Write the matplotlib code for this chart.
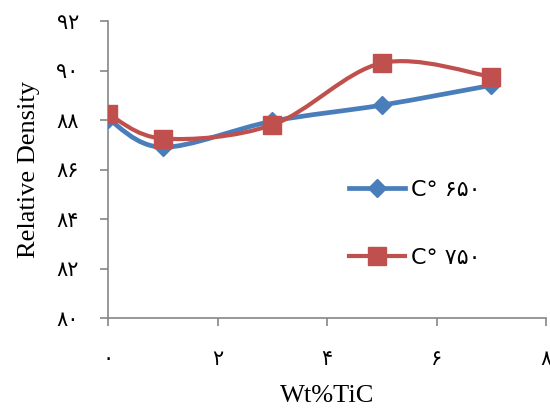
import matplotlib
matplotlib.use("Agg")
import matplotlib.pyplot as plt
from matplotlib.path import Path
from matplotlib.patches import PathPatch
from matplotlib.lines import Line2D

x_vals = [0, 1, 3, 5, 7]
s650 = [88.05, 86.9, 87.95, 88.6, 89.4]
s750 = [88.25, 87.25, 87.8, 90.3, 89.75]
label650 = "C° ۶۵۰"
label750 = "C° ۷۵۰"
xticks = [0, 2, 4, 6, 8]
xticklabels = ["۰", "۲", "۴", "۶", "۸"]
yticks = [80, 82, 84, 86, 88, 90, 92]
yticklabels = ["۸۰", "۸۲", "۸۴", "۸۶", "۸۸", "۹۰", "۹۲"]
xlabel = "Wt%TiC"
ylabel = "Relative Density"

BLUE = "#4A7EBB"
RED = "#C0504D"
GREY = "#868686"


def smooth_path(xs, ys):
    pts = list(zip(xs, ys))
    n = len(pts)
    verts = [pts[0]]
    codes = [Path.MOVETO]
    for i in range(n - 1):
        p0 = pts[i - 1] if i > 0 else pts[i]
        p1 = pts[i]
        p2 = pts[i + 1]
        p3 = pts[i + 2] if i + 2 < n else pts[i + 1]
        c1 = (p1[0] + (p2[0] - p0[0]) / 6, p1[1] + (p2[1] - p0[1]) / 6)
        c2 = (p2[0] - (p3[0] - p1[0]) / 6, p2[1] - (p3[1] - p1[1]) / 6)
        verts += [c1, c2, p2]
        codes += [Path.CURVE4] * 3
    return Path(verts, codes)


fig = plt.figure(figsize=(5.5, 4.18), dpi=100)
ax = fig.add_axes([108 / 550, 1 - 318 / 418, 438 / 550, 297 / 418])

ax.add_patch(PathPatch(smooth_path(x_vals, s650), facecolor="none",
                       edgecolor=BLUE, lw=3.4, capstyle="round", zorder=2))
ax.plot(x_vals, s650, ls="none", marker="D", ms=9, color=BLUE, zorder=3)
ax.add_patch(PathPatch(smooth_path(x_vals, s750), facecolor="none",
                       edgecolor=RED, lw=3.0, capstyle="round", zorder=4))
ax.plot(x_vals, s750, ls="none", marker="s", ms=13.5, color=RED, zorder=5)

ax.set_xlim(0, 8)
ax.set_ylim(80, 92)
ax.set_xticks(xticks)
ax.set_xticklabels(xticklabels, family=["DejaVu Sans"], fontsize=15)
ax.set_yticks(yticks)
ax.set_yticklabels(yticklabels, family=["DejaVu Sans"], fontsize=15)

for s in ["top", "right"]:
    ax.spines[s].set_visible(False)
for s in ["left", "bottom"]:
    ax.spines[s].set_color(GREY)
    ax.spines[s].set_linewidth(1.2)
ax.tick_params(axis="both", colors=GREY, width=1.2, length=6, labelcolor="black")
ax.tick_params(axis="x", pad=16)
ax.tick_params(axis="y", pad=15)

ax.set_xlabel(xlabel, family="Liberation Serif", fontsize=19, labelpad=12)
ax.set_ylabel(ylabel, family="Liberation Serif", fontsize=19, labelpad=12)

handles = [
    Line2D([], [], color=BLUE, lw=3.4, marker="D", ms=9),
    Line2D([], [], color=RED, lw=3.0, marker="s", ms=13.5),
]
ax.legend(handles, [label650, label750], loc="upper left",
          bbox_to_anchor=(349 / 550, 1 - 180 / 418), bbox_transform=fig.transFigure,
          frameon=False, borderpad=0, borderaxespad=0, handlelength=2.5,
          handletextpad=0.3, labelspacing=2.15,
          prop={"family": ["DejaVu Sans"], "size": 16})

fig.savefig("out.png", dpi=100)
